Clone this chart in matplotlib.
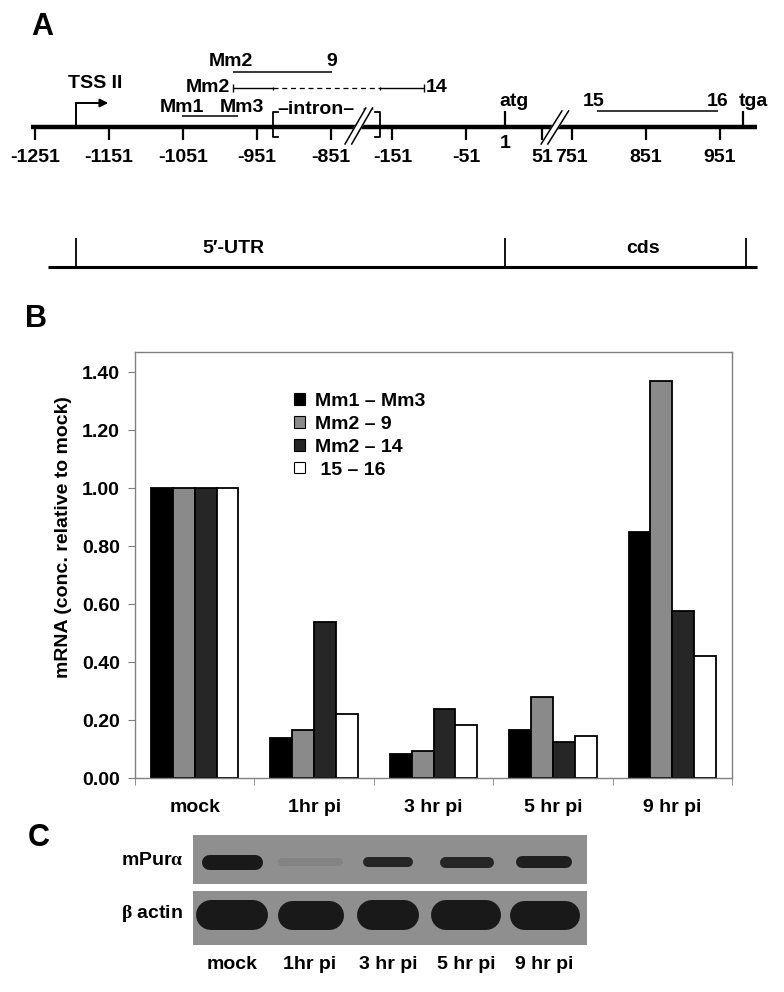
import matplotlib
matplotlib.use("Agg")
import matplotlib.pyplot as plt
from matplotlib.patches import Patch
from matplotlib.ticker import FormatStrFormatter
import numpy as np

plt.rcParams['font.family'] = ['Liberation Sans', 'DejaVu Sans']
plt.rcParams['font.weight'] = 'bold'
plt.rcParams['axes.labelweight'] = 'bold'
plt.rcParams['font.size'] = 14
plt.rcParams['mathtext.fontset'] = 'custom'
plt.rcParams['mathtext.rm'] = 'Liberation Serif'

# Панель A: карта транскрипту (bp відносно atg)
map_ticks = [-1251, -1151, -1051, -951, -851, -151, -51, 51, 751, 851, 951]
tss_bp = -1195
atg_bp = 1
tga_bp = 983
mm1_mm3_bp = (-1053, -977)
mm2_9_bp = (-984, -849)
mm2_14_bp = (-984, -109)
intron_bp = (-929, -168)
p15_16_bp = (785, 948)

# Панель B: мРНК відносно mock
groups = ["mock", "1hr pi", "3 hr pi", "5 hr pi", "9 hr pi"]
series = ["Mm1 \u2013 Mm3", "Mm2 \u2013 9", "Mm2 \u2013 14", " 15 \u2013 16"]
mm1_mm3 = [1.00, 0.14, 0.085, 0.165, 0.85]
mm2_9 = [1.00, 0.165, 0.095, 0.28, 1.37]
mm2_14 = [1.00, 0.54, 0.24, 0.125, 0.575]
p15_16 = [1.00, 0.22, 0.185, 0.145, 0.42]

# Панель C: вестерн-блот (відносна інтенсивність смуг)
mpur_level = [1.0, 0.1, 0.9, 0.9, 0.95]
actin_level = [1.0, 1.0, 1.0, 1.0, 1.0]

bar_colors = ["#000000", "#8a8a8a", "#262626", "#ffffff"]
W, H = 784, 992


def fx(px):
    return px / W


def fy(py):
    return 1 - py / H


def gx(bp):
    # стиснення двох розривів на карті
    if bp < -500:
        return bp + 1251
    if bp < 400:
        return bp + 634
    return bp - 25.7


fig = plt.figure(figsize=(7.84, 9.92), dpi=100)

# ---------------- A ----------------
ax = fig.add_axes([0, fy(300), 1, 300 / H])
ax.set_xlim(-35 / 0.74, (W - 35) / 0.74)
ax.set_ylim(300, 0)
ax.axis('off')
k = dict(color='black', solid_capstyle='butt')

ax.plot([gx(-1256), gx(1001)], [127, 127], lw=3.2, **k)
for bp in map_ticks:
    ax.plot([gx(bp)] * 2, [127, 140], lw=1.6, **k)
    ax.text(gx(bp), 158, str(bp), ha='center', va='center')
for bp in (atg_bp, tga_bp):
    ax.plot([gx(bp)] * 2, [111, 127], lw=1.6, **k)
ax.text(gx(atg_bp) + 12, 101, "atg", ha='center', va='center')
ax.text(gx(tga_bp) + 14, 102, "tga", ha='center', va='center')
ax.text(gx(atg_bp), 143, "1", ha='center', va='center')

# TSS II
ax.plot([gx(tss_bp)] * 2, [127, 103], lw=1.4, **k)
ax.annotate("", xy=(gx(-1152), 103), xytext=(gx(tss_bp) - 1, 103),
            arrowprops=dict(arrowstyle='-|>', lw=1.4, color='black',
                            mutation_scale=12, shrinkA=0, shrinkB=0))
ax.text(gx(-1169), 83, "TSS II", ha='center', va='center')

# праймери
ax.plot([gx(mm1_mm3_bp[0]), gx(mm1_mm3_bp[1])], [116, 116], lw=1.1, **k)
ax.text(gx(-1053), 107, "Mm1", ha='center', va='center')
ax.text(gx(-972), 107, "Mm3", ha='center', va='center')

ax.plot([gx(mm2_9_bp[0]), gx(mm2_9_bp[1])], [72, 72], lw=1.1, **k)
ax.text(gx(-986), 62, "Mm2", ha='center', va='center')
ax.text(gx(-850), 62, "9", ha='center', va='center')

y14 = 88
a, b = gx(mm2_14_bp[0]), gx(mm2_14_bp[1])
ax.plot([a, gx(intron_bp[0])], [y14, y14], lw=1.0, **k)
ax.plot([gx(intron_bp[0]), gx(intron_bp[1])], [y14, y14], lw=0.9,
        color='black', linestyle=(0, (4, 3)))
ax.plot([gx(intron_bp[1]), b], [y14, y14], lw=1.0, **k)
for xx, hh in [(a, 4), (b, 4), (gx(intron_bp[0]), 1.5), (gx(intron_bp[1]), 1.5)]:
    ax.plot([xx, xx], [y14 - hh, y14 + hh], lw=1.0, **k)
ax.text(a - 4, y14, "Mm2", ha='right', va='center')
ax.text(b + 3, y14, "14", ha='left', va='center')

# інтрон у дужках
l, r = gx(intron_bp[0]), gx(intron_bp[1])
ax.plot([l + 7, l, l, l + 7], [112, 112, 137, 137], lw=1.3, color='black')
ax.plot([r - 7, r, r, r - 7], [112, 112, 137, 137], lw=1.3, color='black')
ax.text(gx(-871), 110, "\u2013intron\u2013", ha='center', va='center')
ax.text(gx(-184), 110, "\u2013", ha='center', va='center')


def brk(u0, y0, y1):
    dx = 9
    ax.fill([u0, u0 + dx, u0 + dx + 28, u0 + 28], [y1, y1, y0, y0],
            color='white', zorder=3)
    for d in (0, dx):
        ax.plot([u0 + d, u0 + d + 28], [y1, y0], lw=1.1, color='black', zorder=4)


brk(gx(-832), 108, 144)
brk(gx(53) - 3, 111, 144)

ax.plot([gx(p15_16_bp[0]), gx(p15_16_bp[1])], [111, 111], lw=1.1, **k)
ax.text(gx(780), 101, "15", ha='center', va='center')
ax.text(gx(948), 101, "16", ha='center', va='center')

# 5'-UTR / cds
ax.plot([gx(-1234), gx(1001)], [266.5, 266.5], lw=2.2, **k)
for bp in (tss_bp, atg_bp, tga_bp + 3):
    ax.plot([gx(bp)] * 2, [238, 266.5], lw=1.3, **k)
ax.text(gx(-983), 248, "5\u2032-UTR", ha='center', va='center')
ax.text(gx(847), 248, "cds", ha='center', va='center')

fig.text(fx(31), fy(27), "A", fontsize=22, ha='left', va='center')
fig.text(fx(25), fy(319), "B", fontsize=22, ha='left', va='center')
fig.text(fx(28), fy(838), "C", fontsize=22, ha='left', va='center')

# ---------------- B ----------------
axb = fig.add_axes([fx(135), fy(778.3), 597 / W, 426.6 / H])
x = np.arange(len(groups))
w = 0.183
for i, (vals, col, lab) in enumerate(zip([mm1_mm3, mm2_9, mm2_14, p15_16], bar_colors, series)):
    axb.bar(x + (i - 1.5) * w, vals, w, color=col, edgecolor='black',
            linewidth=1.3, label=lab, zorder=2)
axb.set_xlim(-0.5, 4.5)
axb.set_ylim(0, 1.47)
axb.set_yticks(np.arange(0, 1.41, 0.2))
axb.yaxis.set_major_formatter(FormatStrFormatter('%.2f'))
axb.set_xticks(x)
axb.set_xticklabels(groups)
axb.set_xticks(np.arange(-0.5, 4.6, 1), minor=True)
axb.tick_params(axis='x', which='major', length=0, pad=15)
axb.tick_params(axis='x', which='minor', length=5, color='#808080')
axb.tick_params(axis='y', length=5, color='#808080', pad=6)
for s in axb.spines.values():
    s.set_color('#808080')
    s.set_linewidth(1.0)
axb.set_ylabel("mRNA (conc. relative to mock)")
axb.yaxis.set_label_coords(-0.106, 0.566)

handles = [Patch(facecolor=c, edgecolor='black', linewidth=0.8) for c in bar_colors]
axb.legend(handles, series, loc='upper left', bbox_to_anchor=(fx(294), fy(393)),
           bbox_transform=fig.transFigure, frameon=False, handlelength=0.55,
           handleheight=0.55, handletextpad=0.55, labelspacing=0.3,
           borderpad=0, borderaxespad=0)

# ---------------- C ----------------
bg = 0.56
rows = [
    ("mPur$\\mathrm{\\alpha}$", 835, 884, mpur_level, [61, 65, 50, 54, 56], [15, 8, 10, 11, 12], 0.45),
    ("$\\mathrm{\\beta}$ actin", 891, 945, actin_level, [72, 66, 62, 70, 70], [30, 29, 30, 30, 29], 0.55),
]
lane_px = 78.0
for name, top, bot, level, lens, thick, yc in rows:
    axc = fig.add_axes([fx(193), fy(bot), 394 / W, (bot - top) / H])
    axc.set_xlim(-0.5, 4.55)
    axc.set_ylim(0, 1)
    axc.set_facecolor((bg, bg, bg))
    for s in axc.spines.values():
        s.set_visible(False)
    axc.set_yticks([])
    for i, lv in enumerate(level):
        g = bg - (bg - 0.1) * lv
        half = (lens[i] - thick[i]) / 2 / lane_px
        axc.plot([i - half, i + half], [yc, yc], lw=thick[i] * 0.72,
                 color=(g, g, g), solid_capstyle='round')
    axc.text(-0.025, yc + 0.03, name, transform=axc.transAxes, ha='right', va='center')
    if bot > 900:
        axc.set_xticks(np.arange(len(groups)))
        axc.set_xticklabels(groups)
        axc.tick_params(axis='x', length=0, pad=8)
    else:
        axc.set_xticks([])

fig.savefig("out.png", dpi=100)
